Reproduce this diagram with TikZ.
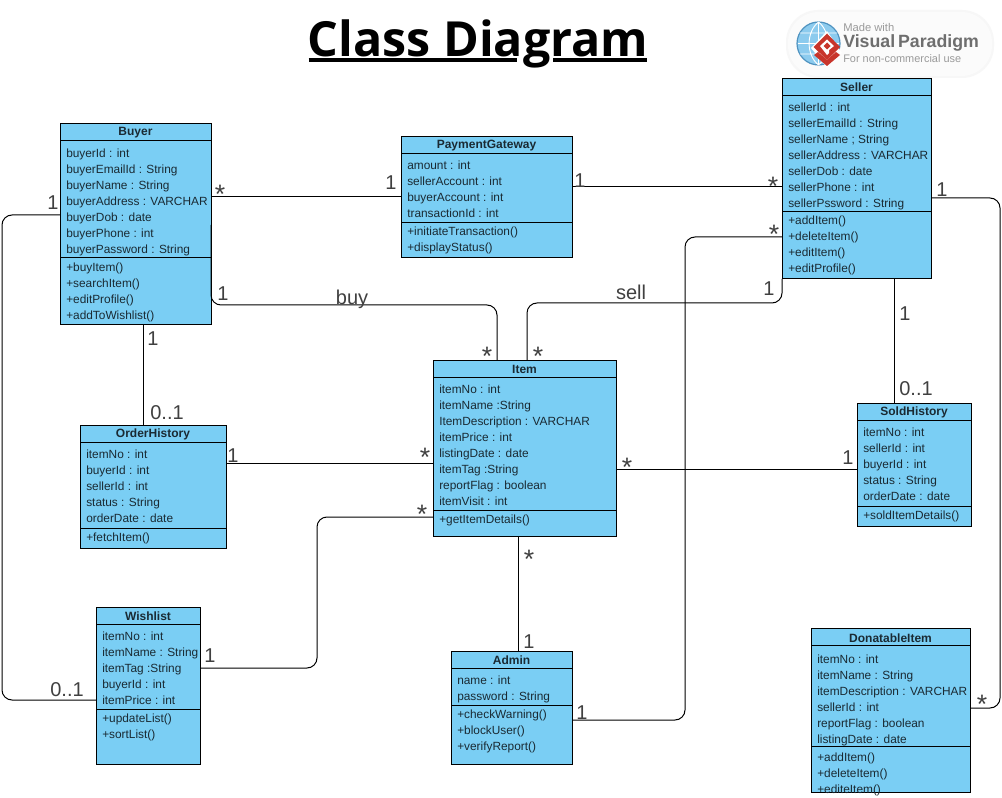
\documentclass[tikz,border=0pt]{standalone}
\usepackage{fontspec}
\setmainfont{Liberation Sans}
\newfontfamily\titlefont{Open Sans}
\definecolor{classfill}{HTML}{7ACEF4}
\definecolor{inktext}{HTML}{1A2A33}
\definecolor{labeltext}{HTML}{404040}
\definecolor{wm}{HTML}{6E6E6E}
\definecolor{globe}{HTML}{8CCBEE}
\definecolor{globeedge}{HTML}{4F93C0}
\definecolor{logored}{HTML}{C8352B}
\tikzset{
  classbox/.style={draw=black,line width=0.75pt,fill=classfill,inner sep=0pt,outer sep=0pt},
  classtitle/.style={font=\fontsize{9}{9}\selectfont\bfseries,text=inktext,inner sep=0pt},
  members/.style={font=\fontsize{8.9}{12}\selectfont,text=inktext,align=left,anchor=north west,inner sep=0pt},
  divider/.style={line width=0.75pt,black},
  conn/.style={draw=black,line width=0.75pt,rounded corners=7.5pt},
  mult/.style={font=\fontsize{15}{15}\selectfont,text=labeltext,inner sep=0pt},
  star/.style={font=\fontsize{20}{20}\selectfont,text=labeltext,inner sep=0pt},
}
\newcommand{\memshift}{0}
% #1 name, #2 x1, #3 y1, #4 x2, #5 y2, #6 div1, #7 div2, #8 title, #9 attributes
\newcommand{\umlbox}[9]{%
  \node[classbox,minimum width=(#4-#2)*0.75pt,minimum height=(#5-#3)*0.75pt] (#1) at ({(#2+#4)/2},{(#3+#5)/2}) {};
  \draw[divider] (#2,#6) -- (#4,#6);
  \draw[divider] (#2,#7) -- (#4,#7);
  \node[classtitle] (#1title) at ({(#2+#4)/2},{(#3+#6)/2+0.5+\memshift*0.5}) {#8};
  \node[members] (#1attrs) at (#2+6,#6+7.5+\memshift) {#9};
}
\newcommand{\umlops}[4]{\node[members] (#1ops) at (#2+6,#3+5+\memshift) {#4};}
\begin{document}
\begin{tikzpicture}[x=0.75pt,y=-0.75pt]
\useasboundingbox (0,0) rectangle (1002,798);
\fill[white] (0,0) rectangle (1002,798);

% title
\node[font=\titlefont\fontsize{36.3}{36.3}\selectfont\bfseries,inner sep=0pt,anchor=base] (heading) at (478,56.5) {Class Diagram};
\draw[line width=3pt] (308.5,60) -- (517,60) (553,60) -- (647,60);

% watermark
\fill[black!3,rounded corners=24pt] (786,10) rectangle (994,78);
\fill[black!1.5,rounded corners=23pt] (788,12) rectangle (992,76);
\fill[globe] (818.5,43.5) circle (21.5);
\draw[globeedge,line width=0.9pt] (818.5,43.5) circle (21.5);
\draw[white,line width=0.7pt] (798,43.5) -- (839,43.5) (800,33) -- (837,33) (800,54) -- (837,54) (818.5,22) -- (818.5,65) (818.5,22) .. controls (806,32) and (806,55) .. (818.5,65) (818.5,22) .. controls (831,32) and (831,55) .. (818.5,65);
\fill[white] (826.5,67) -- (842,53) -- (827,31) -- (811,48) -- cycle;
\fill[logored] (827,66) -- (814,55) -- (818,52) -- (827,60) -- (836,52) -- (840,55) -- cycle;
\fill[logored] (827,60) -- (840,47) -- (827,33.5) -- (813.5,47) -- cycle;
\fill[white] (827,55) -- (829,53) -- (829,50) -- (834,46) -- (827,39.5) -- (820,46) -- cycle;
\fill[logored] (827,49.5) -- (830.5,46) -- (827,42.5) -- (823.5,46) -- cycle;
\node[font=\fontsize{8.4}{8.4}\selectfont,text=wm!70,inner sep=0pt,anchor=west] (wmA) at (843,28) {Made with};
\node[font=\fontsize{13.3}{13.3}\selectfont\bfseries,text=wm,inner sep=0pt,anchor=west] (wmB) at (843,43) {Visual\,Paradigm};
\node[font=\fontsize{8.2}{8.2}\selectfont,text=wm!70,inner sep=0pt,anchor=west] (wmC) at (843,59) {For non-commercial use};

% classes
\umlbox{buyer}{60}{124}{211}{325}{141}{258}{Buyer}{buyerId : int\\buyerEmailId : String\\buyerName : String\\buyerAddress : VARCHAR\\buyerDob : date\\buyerPhone : int\\buyerPassword : String}
\umlops{buyer}{60}{258}{+buyItem()\\+searchItem()\\+editProfile()\\+addToWishlist()}
\renewcommand{\memshift}{-1}
\umlbox{pay}{401}{137}{572}{258}{154}{223}{PaymentGateway}{amount : int\\sellerAccount : int\\buyerAccount : int\\transactionId : int}
\umlops{pay}{401}{223}{+initiateTransaction()\\+displayStatus()}
\umlbox{seller}{782}{79}{931}{279}{96}{212}{Seller}{sellerId : int\\sellerEmailId : String\\sellerName ; String\\sellerAddress : VARCHAR\\sellerDob : date\\sellerPhone : int\\sellerPssword : String}
\umlops{seller}{782}{212}{+addItem()\\+deleteItem()\\+editItem()\\+editProfile()}
\renewcommand{\memshift}{0}
\umlbox{item}{433}{360}{616}{536}{377}{510}{Item}{itemNo : int\\itemName :String\\ItemDescription : VARCHAR\\itemPrice : int\\listingDate : date\\itemTag :String\\reportFlag : boolean\\itemVisit : int}
\umlops{item}{433}{510}{+getItemDetails()}
\umlbox{order}{80}{425}{226}{548}{442}{528}{OrderHistory}{itemNo : int\\buyerId : int\\sellerId : int\\status : String\\orderDate : date}
\umlops{order}{80}{528}{+fetchItem()}
\umlbox{sold}{857}{403}{971}{526}{420}{506}{SoldHistory}{itemNo : int\\sellerId : int\\buyerId : int\\status : String\\orderDate : date}
\umlops{sold}{857}{506}{+soldItemDetails()}
\umlbox{wish}{96}{607}{200}{764}{624}{709}{Wishlist}{itemNo : int\\itemName : String\\itemTag :String\\buyerId : int\\itemPrice : int}
\umlops{wish}{96}{709}{+updateList()\\+sortList()}
\umlbox{admin}{451}{651}{572}{764}{668}{705}{Admin}{name : int\\password : String}
\umlops{admin}{451}{705}{+checkWarning()\\+blockUser()\\+verifyReport()}
\renewcommand{\memshift}{2}
\umlbox{don}{811}{628}{970}{792}{645}{746}{DonatableItem}{itemNo : int\\itemName : String\\itemDescription : VARCHAR\\sellerId : int\\reportFlag : boolean\\listingDate : date}
\umlops{don}{811}{746}{+addItem()\\+deleteItem()\\+editeItem()}
\renewcommand{\memshift}{0}

% connectors
\draw[conn] (buyer.east |- 0,197) -- (pay.west |- 0,197);
\draw[conn] (pay.east |- 0,187) -- (seller.west |- 0,187);
\draw[conn] (buyer.east |- 0,225) -- (211,305) -- (497,305) -- (497,360);
\draw[conn] (782,279) -- (782,303) -- (527,303) -- (527,360);
\draw[conn] (seller.west |- 0,237) -- (685,237) -- (685,720) -- (admin.east |- 0,720);
\draw[conn] (seller.east |- 0,198) -- (1000,198) -- (1000,708) -- (don.east |- 0,708);
\draw[conn] (894,279) -- (894,403);
\draw[conn] (143,325) -- (143,425);
\draw[conn] (order.east |- 0,463) -- (item.west |- 0,463);
\draw[conn] (item.east |- 0,469) -- (sold.west |- 0,469);
\draw[conn] (wish.east |- 0,668) -- (317,668) -- (317,517) -- (item.west |- 0,517);
\draw[conn] (518,536) -- (518,651);
\draw[conn] (buyer.west |- 0,215) -- (2,215) -- (2,700) -- (wish.west |- 0,700);

% multiplicities
\foreach \n/\x/\y/\t in {m2/391/183/1, m3/580/181/1, m4/223/294/1, m5/53/203/1, m6/153/339/1, m7/167/413/0..1, m8/233/456/1, m9/769/289/1, m10/905/314/1, m11/916/389/0..1, m12/848/458/1, m13/942/190/1, m14/210/656/1, m15/529/642/1, m16/582/713/1, m17/67/690/0..1}{
  \node[mult] (\n) at (\x,\y) {\t};
}
\foreach \n/\x/\y in {s1/220/194.5, s2/773/186.5, s3/774/234.5, s4/487/356.5, s5/538/356.5, s6/425/457.5, s7/422/514.5, s8/627/467.5, s9/529/559.5, s10/982/704.5}{
  \node[star] (\n) at (\x,\y) {*};
}
\node[mult] (lbuy) at (352,299) {buy};
\node[mult] (lsell) at (631,292) {sell};
\end{tikzpicture}
\end{document}
